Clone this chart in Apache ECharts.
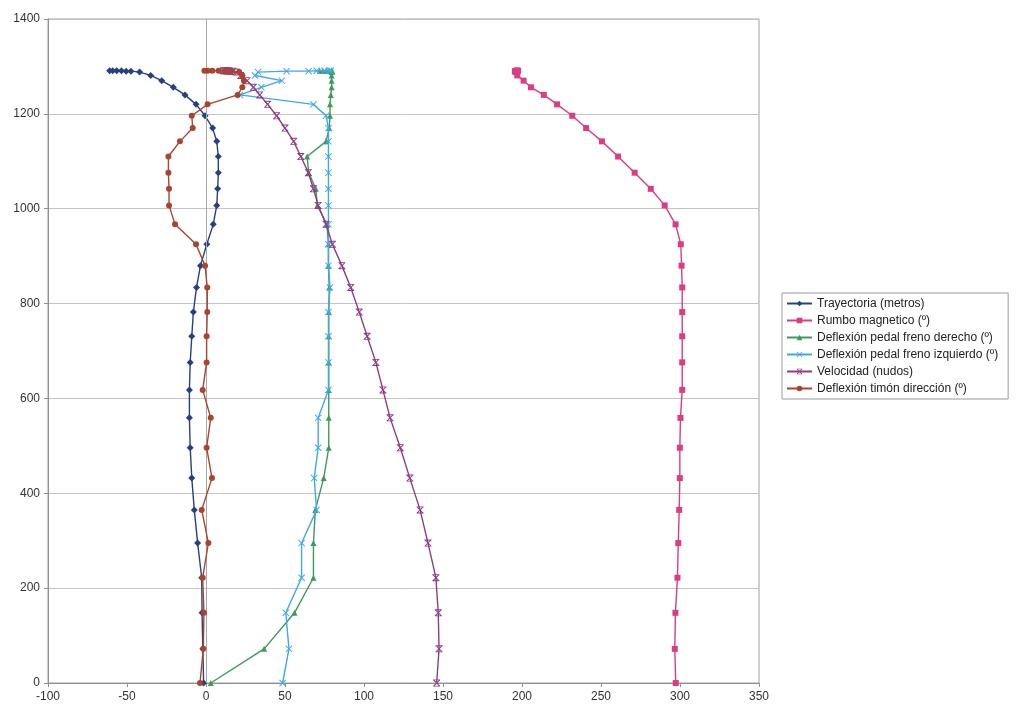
<!DOCTYPE html>
<html>
<head>
<meta charset="utf-8">
<script src="https://cdn.jsdelivr.net/npm/echarts@6/dist/echarts.min.js"></script>
<style>
  html, body { margin: 0; padding: 0; background: #fff; }
  #chart { width: 1018px; height: 711px; }
</style>
</head>
<body>
<div id="chart"></div>
<script>
// Shared vertical coordinate for every sample (one reading per time step).
const distance = [0, 72, 148, 222, 295, 365, 432, 496, 559, 618, 676, 731, 782, 834, 880, 925, 967, 1007, 1042, 1076,
  1110, 1142, 1170, 1196, 1220, 1240, 1256, 1270, 1281, 1288, 1290, 1290, 1291, 1291, 1291, 1291];

const trayectoria = [-1.5, -2, -2.5, -2.7, -5.3, -7.4, -9, -10, -10.5, -10.5, -10, -9, -8, -6, -3.5, 0.5, 4.6, 6.8, 7.4, 7.8,
  7.8, 6.8, 4.2, -0.6, -6.3, -13.3, -20.7, -28, -35, -42, -47.5, -50.5, -53.5, -56.5, -59, -61];
const rumbo = [297.3, 296.7, 297.1, 298.4, 298.9, 299.5, 299.9, 299.9, 300.3, 301.4, 301.4, 301.4, 301.4, 301.4, 301, 300.5, 297.2, 290.3, 281.5, 271.3,
  260.8, 250.6, 240.6, 231.8, 222.2, 213.8, 205.7, 201, 197, 196, 195.5, 196, 196.5, 197, 197.5, 197];
const frenoDerecho = [3, 36.8, 56, 68, 68, 69.2, 74.5, 77.7, 77.7, 77.7, 77.7, 77.7, 77.7, 78, 77.5, 77.5, 76.5, 70.5, 69.5, 65,
  64, 76, 78, 78.5, 78.5, 79, 79.5, 79.5, 79.5, 79.5, 80, 79.5, 78, 76, 74, 72];
const frenoIzquierdo = [48.5, 52.5, 50.5, 60.5, 60.5, 70, 68.5, 71, 71, 77.5, 77.5, 77.5, 77.5, 78.5, 77.5, 77.5, 77.5, 77.5, 77.5, 77.5,
  77.5, 77.5, 77.5, 76, 68, 21.5, 35, 48, 31, 33, 51, 65, 70, 75, 78, 79];
const velocidad = [146, 147.5, 147, 145.5, 140.5, 135.5, 129, 123, 116.5, 112, 107.5, 102, 97, 91.6, 86, 80, 76, 71, 68, 64.8,
  60, 55.5, 50, 44.7, 39, 34, 30, 26, 22, 19, 17, 15, 14, 13, 12, 11];
const timon = [-3.8, -1.7, -1.3, -2.1, 1.5, -2.7, 3.8, 0.4, 3, -2.1, 0.4, 0.4, 0.8, 0.8, -0.6, -6.3, -19.6, -23.4, -23.4, -23.8,
  -23.8, -16.5, -8.4, -9, 1, 20, 23, 24, 23, 21, 16, 12, 8, 4, 1, -1];

const seriesNames = ['Trayectoria (metros)', 'Rumbo magnetico (º)', 'Deflexión pedal freno derecho (º)',
  'Deflexión pedal freno izquierdo (º)', 'Velocidad (nudos)', 'Deflexión timón dirección (º)'];

// Marker shapes: Excel-like cross and star drawn as filled paths.
const CROSS = 'path://M0,1L1,0L5,4L9,0L10,1L6,5L10,9L9,10L5,6L1,10L0,9L4,5Z';
const STAR = 'path://M0,1L1,0L5,4L9,0L10,1L6,5L10,9L9,10L5,6L1,10L0,9L4,5Z M0,0L10,0L10,1.2L0,1.2Z M0,8.8L10,8.8L10,10L0,10Z';

const styles = [
  { values: trayectoria, color: '#27407f', symbol: 'diamond', size: 7 },
  { values: rumbo, color: '#dc3c82', symbol: 'rect', size: 6 },
  { values: frenoDerecho, color: '#3e9a5c', symbol: 'triangle', size: 6 },
  { values: frenoIzquierdo, color: '#3fa9e6', symbol: CROSS, size: 7 },
  { values: velocidad, color: '#8c3d86', symbol: STAR, size: 7 },
  { values: timon, color: '#a8442f', symbol: 'circle', size: 6 },
];

const font = '"Liberation Sans", Arial, sans-serif';

const series = styles.map((s, i) => ({
  name: seriesNames[i],
  type: 'line',
  data: s.values.map((v, k) => [v, distance[k]]),
  symbol: s.symbol,
  symbolSize: s.size,
  showAllSymbol: true,
  color: s.color,
  lineStyle: { width: 1.4, color: s.color },
  itemStyle: { color: s.color },
  z: 2 + i,
  markLine: i === 0 ? {
    silent: true, symbol: ['none', 'none'], animation: false,
    label: { show: false },
    lineStyle: { color: '#a8a8a8', type: 'solid', width: 1 },
    data: [{ xAxis: 0 }],
  } : undefined,
}));

const chart = echarts.init(document.getElementById('chart'), null, { renderer: 'canvas' });
chart.setOption({
  animation: false,
  backgroundColor: '#fff',
  textStyle: { fontFamily: font },
  grid: { left: 48, right: 259, top: 19, bottom: 28, show: true, borderColor: '#a0a0a0', borderWidth: 1 },
  legend: {
    orient: 'vertical', left: 782, top: 293,
    itemWidth: 25, itemHeight: 7, itemGap: 4,
    padding: [4, 10, 4, 4],
    borderColor: '#9a9a9a', borderWidth: 1,
    textStyle: { fontFamily: font, fontSize: 12, color: '#222', lineHeight: 13 },
    data: seriesNames,
  },
  xAxis: {
    type: 'value', min: -100, max: 350, interval: 50,
    axisLine: { onZero: false, lineStyle: { color: '#909090' } },
    axisTick: { show: true, length: 4, lineStyle: { color: '#909090' } },
    axisLabel: { fontFamily: font, fontSize: 12, color: '#333', margin: 8, formatter: (v) => String(v) },
    splitLine: { show: false },
  },
  yAxis: {
    type: 'value', min: 0, max: 1400, interval: 200,
    axisLine: { show: true, onZero: false, lineStyle: { color: '#909090' } },
    axisTick: { show: true, length: 4, lineStyle: { color: '#909090' } },
    axisLabel: { fontFamily: font, fontSize: 12, color: '#333', margin: 8, formatter: (v) => String(v) },
    splitLine: { show: true, lineStyle: { color: '#c4c4c4', width: 1 } },
  },
  series,
});
</script>
</body>
</html>
